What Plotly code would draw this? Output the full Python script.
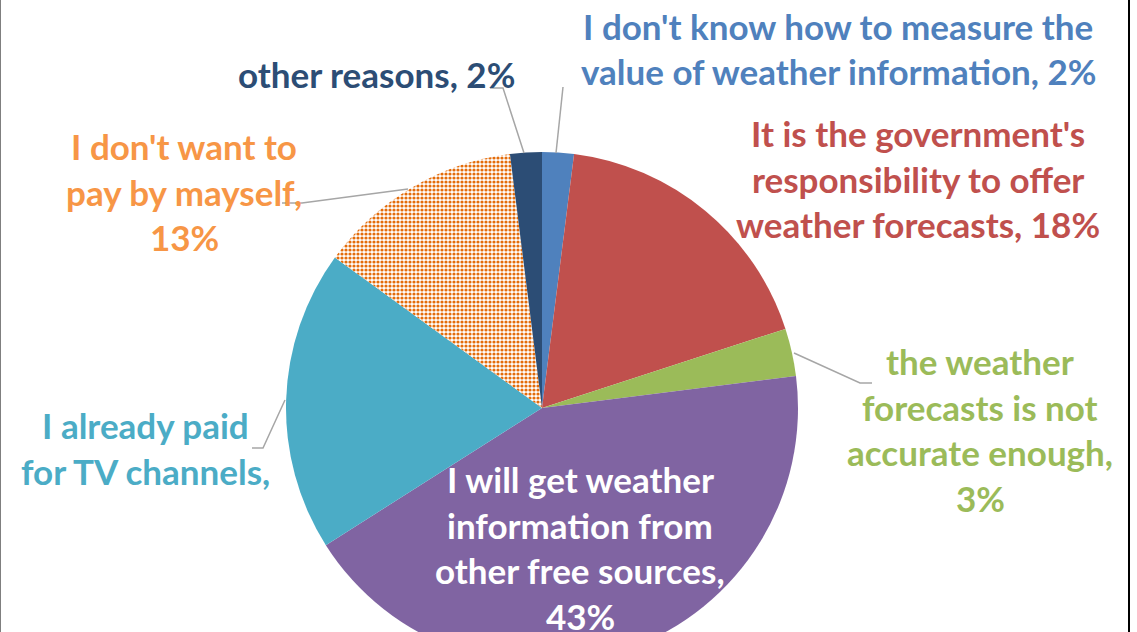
import plotly.graph_objects as go

# ---- data ----
categories = [
    "I don't know how to measure the value of weather information",
    "It is the government's responsibility to offer weather forecasts",
    "the weather forecasts is not accurate enough",
    "I will get weather information from other free sources",
    "I already paid for TV channels",
    "I don't want to pay by mayself",
    "other reasons",
]
values = [2, 18, 3, 43, 19, 13, 2]
slice_colors = ["#4F81BD", "#C0504D", "#9BBB59", "#8064A2", "#4BACC6", "#FFFFFF", "#2C4D75"]
label_colors = ["#4F81BD", "#C0504D", "#9BBB59", "#FFFFFF", "#4BACC6", "#F79646", "#2C4D75"]
label_lines = [
    ["I don't know how to measure the", "value of weather information, 2%"],
    ["It is the government's", "responsibility to offer", "weather forecasts, 18%"],
    ["the weather", "forecasts is not", "accurate enough,", "3%"],
    ["I will get weather", "information from", "other free sources,", "43%"],
    ["I already paid", "for TV channels,"],
    ["I don't want to", "pay by mayself,", "13%"],
    ["other reasons, 2%"],
]

# ---- layout constants (pixels) ----
W, H = 1137, 700
CX, CY, R = 542, 408, 256
FONT = "Lato"
FS = 35
LINE_H = 45.5
label_pos = [(838, 26), (918, 133), (980, 361), (580, 479), (145, 425), (184, 146), (376, 74)]
leaders = [
    [(563, 87), (556, 153)],
    None,
    [(794, 353), (860, 383), (872, 383)],
    None,
    [(252, 448), (263, 448), (285, 400)],
    [(282, 203), (302, 203), (408, 189)],
    [(490, 88), (503, 88), (524, 153)],
]


def px(x):
    return x / W


def py(y):
    return 1 - y / H


fig = go.Figure(
    go.Pie(
        labels=categories,
        values=values,
        sort=False,
        direction="clockwise",
        rotation=0,
        textinfo="none",
        hoverinfo="label+percent",
        marker=dict(
            colors=slice_colors,
            line=dict(width=0),
            pattern=dict(
                shape=["", "", "", "", "", ".", ""],
                fgcolor="#E46C0A",
                bgcolor="#FFFFFF",
                size=4,
                solidity=0.5,
            ),
        ),
        domain=dict(x=[px(CX - R), px(CX + R)], y=[py(CY + R), py(CY - R)]),
        showlegend=False,
    )
)

annotations = []
for lines, color, (x0, y0) in zip(label_lines, label_colors, label_pos):
    for i, t in enumerate(lines):
        annotations.append(dict(
            x=px(x0), y=py(y0 + i * LINE_H), xref="paper", yref="paper",
            text=t, showarrow=False, xanchor="center", yanchor="middle",
            font=dict(family=FONT, size=FS, color=color, weight="bold"),
        ))

shapes = []
for pts in leaders:
    if not pts:
        continue
    path = "M " + " L ".join(f"{px(x)},{py(y)}" for x, y in pts)
    shapes.append(dict(type="path", path=path, xref="paper", yref="paper",
                       line=dict(color="#A6A6A6", width=1.5)))
# frame borders
shapes.append(dict(type="line", xref="paper", yref="paper", x0=px(0.5), x1=px(0.5), y0=0, y1=1,
                   line=dict(color="#7F7F7F", width=1)))
shapes.append(dict(type="line", xref="paper", yref="paper", x0=px(1129), x1=px(1129), y0=0, y1=1,
                   line=dict(color="#000000", width=2)))

fig.update_layout(
    width=W, height=H,
    margin=dict(l=0, r=0, t=0, b=0),
    paper_bgcolor="white", plot_bgcolor="white",
    annotations=annotations, shapes=shapes,
)

fig.write_html(
    "out.html",
    post_script="document.body.style.margin='0';document.body.style.overflow='hidden';document.documentElement.style.overflow='hidden';",
)
